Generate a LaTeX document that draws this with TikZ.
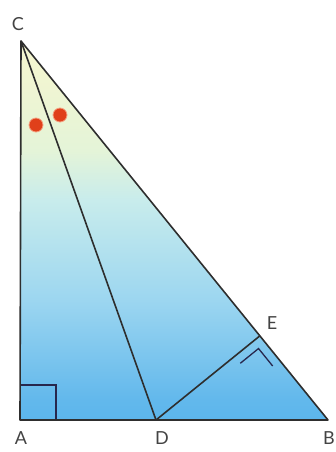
\documentclass[tikz,border=0pt]{standalone}
\usepackage{fontspec}
\setmainfont{Lato}
\usetikzlibrary{calc}
\definecolor{lineC}{HTML}{2E2E2E}
\definecolor{dotR}{HTML}{E0401A}
\definecolor{dotO}{HTML}{F4A080}
\definecolor{s0}{HTML}{5CB6EC}
\definecolor{s1}{HTML}{62B8EC}
\definecolor{s2}{HTML}{9CD6F0}
\definecolor{s3}{HTML}{C8ECEC}
\definecolor{s4}{HTML}{E4F4D8}
\definecolor{s5}{HTML}{F4F6D0}
\pgfdeclareverticalshading{tri}{100bp}{color(0bp)=(s0); color(25bp)=(s0); color(27.6bp)=(s1); color(40.8bp)=(s2); color(54bp)=(s3); color(60.5bp)=(s4); color(72.5bp)=(s5); color(75bp)=(s5); color(100bp)=(s5)}
\tikzset{
  edge/.style={draw=lineC, line width=1.6pt, line join=round},
  thin mark/.style={draw=lineC!85!blue, line width=1.3pt},
  lbl/.style={text=lineC!90, font=\fontsize{18}{20}\selectfont, inner sep=0pt},
  dot/.style={circle, fill=dotR, draw=dotO, line width=0.8pt, minimum size=14pt, inner sep=0pt}
}
\begin{document}
\begin{tikzpicture}[x=1pt,y=-1pt]
\useasboundingbox (0,0) rectangle (335,452);
\coordinate (C) at (21,41);
\coordinate (A) at (20,420);
\coordinate (B) at (328,420);
\coordinate (D) at (156,420);
\coordinate (E) at ($(C)!(D)!(B)$);
\shade[shading=tri] (C) -- (A) -- (B) -- cycle;
% right angle at A
\draw[thin mark] (20,385) -- (56,385) -- (56,420);
% mark at E
\coordinate (P) at ($(E)!9pt!(D)$);
\coordinate (Q) at ($(E)!9pt!(B)$);
\coordinate (R) at ($(P)+(Q)-(E)$);
\coordinate (R1) at ($(R)+2.6*(P)-2.6*(E)$);
\coordinate (R2) at ($(R)+2.5*(Q)-2.5*(E)$);
\draw[thin mark] (R1) -- (R) -- (R2);
% lines
\draw[edge] (C) -- (D);
\draw[edge] (D) -- (E);
\draw[edge] (C) -- (A) -- (B) -- cycle;
% dots
\node[dot] (d1) at (36,125) {};
\node[dot] (d2) at (60,115) {};
% labels
\node[lbl] (lC) at (18,24) {C};
\node[lbl] (lA) at (21,438) {A};
\node[lbl] (lD) at (162,438) {D};
\node[lbl] (lB) at (329,438) {B};
\node[lbl] (lE) at (272,323) {E};
\end{tikzpicture}
\end{document}
